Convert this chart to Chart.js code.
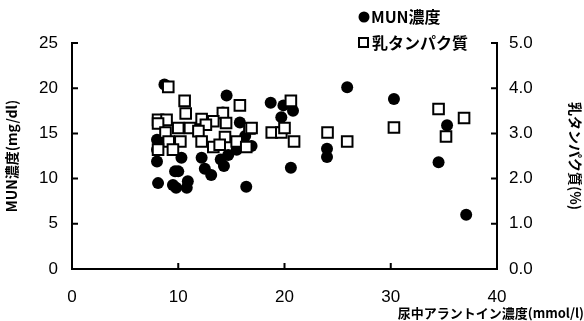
<!DOCTYPE html>
<html>
<head>
<meta charset="utf-8">
<script src="https://cdn.jsdelivr.net/npm/chart.js@4"></script>
<style>
  html, body { margin: 0; padding: 0; background: #fff; }
  #wrap { width: 584px; height: 321px; position: relative; }
</style>
</head>
<body>
<div id="wrap"><canvas id="allantoin"></canvas></div>
<script>
// urinary allantoin (mmol/l) vs MUN (mg/dl)
const munX = [8.7, 14.55, 14.2, 15.8, 8.0, 8.0, 8.0, 10.3, 9.7, 10.0, 8.1, 9.5, 9.8, 10.9, 10.8,
  12.2, 12.5, 13.1, 14.0, 14.3, 15.5, 16.3, 16.4, 16.9, 18.7, 19.9, 20.8, 19.7, 20.6,
  25.9, 30.3, 24.0, 24.0, 34.5, 35.3, 37.1, 14.7, 8.8];
const munY = [20.4, 19.2, 17.3, 16.2, 14.3, 13.2, 11.9, 12.3, 10.8, 10.8, 9.5, 9.3, 9.0, 9.7, 9.0,
  12.3, 11.1, 10.4, 12.1, 11.4, 13.2, 14.7, 9.1, 13.6, 18.4, 18.1, 17.5, 16.8, 11.2,
  20.1, 18.8, 13.3, 12.4, 11.8, 15.9, 6.0, 12.6, 14.3];

// urinary allantoin (mmol/l) vs milk protein (%)
const protX = [9.06, 10.6, 15.8, 10.7, 8.1, 8.9, 12.2, 14.2, 13.3, 14.5, 8.1, 12.6, 10.0, 11.1,
  16.7, 8.8, 11.9, 14.4, 10.2, 9.1, 12.2, 15.5, 13.3, 13.9, 16.4, 8.1, 9.5,
  20.6, 16.9, 18.8, 19.7, 20.0, 20.9, 24.05, 25.9, 30.3, 34.5, 35.2, 36.9];
const protY = [4.03, 3.72, 3.62, 3.44, 3.30, 3.30, 3.32, 3.45, 3.27, 3.23, 3.22, 3.19, 3.12, 3.12,
  3.11, 3.02, 3.05, 2.92, 2.82, 2.82, 2.82, 2.82, 2.70, 2.75, 2.70, 2.64, 2.64,
  3.72, 3.12, 3.02, 3.02, 3.12, 2.82, 3.02, 2.82, 3.13, 3.54, 2.93, 3.34];

const seriesNames = ['MUN濃度', '乳タンパク質'];
const xTitle = '尿中アラントイン濃度(mmol/l)';
const yLeftTitle = 'MUN濃度(mg/dl)';
const yRightTitle = '乳タンパク質(%)';

const numFont = { family: '"Liberation Sans", Arial, sans-serif', size: 17 };
const jpFont = '"Noto Sans CJK JP", sans-serif';

// short tick marks pointing into the plot
const innerTicks = {
  id: 'innerTicks',
  afterDatasetsDraw(chart) {
    const ctx = chart.ctx;
    const len = 6;
    ctx.save();
    ctx.strokeStyle = '#000';
    ctx.lineWidth = 2;
    ctx.beginPath();
    const sx = chart.scales.x, sl = chart.scales.y, sr = chart.scales.y2;
    sx.ticks.forEach((t, i) => {
      const p = sx.getPixelForTick(i);
      ctx.moveTo(p, sx.top); ctx.lineTo(p, sx.top - len);
    });
    sl.ticks.forEach((t, i) => {
      const p = sl.getPixelForTick(i);
      ctx.moveTo(sl.right, p); ctx.lineTo(sl.right + len, p);
    });
    sr.ticks.forEach((t, i) => {
      const p = sr.getPixelForTick(i);
      ctx.moveTo(sr.left, p); ctx.lineTo(sr.left - len, p);
    });
    ctx.stroke();
    ctx.restore();
  }
};

// stacked legend top right, plus x axis title under the right end
const sideText = {
  id: 'sideText',
  afterDraw(chart) {
    const ctx = chart.ctx;
    ctx.save();
    ctx.fillStyle = '#000';
    ctx.strokeStyle = '#000';
    ctx.textBaseline = 'middle';
    ctx.font = 'bold 16px ' + jpFont;
    // MUN
    ctx.beginPath();
    ctx.arc(364, 17, 5.5, 0, Math.PI * 2);
    ctx.fill();
    ctx.fillText(seriesNames[0], 371, 17);
    // protein
    ctx.lineWidth = 2;
    ctx.strokeRect(359, 38, 9, 9);
    ctx.fillText(seriesNames[1], 372, 43);
    // x title
    ctx.font = 'bold 13px ' + jpFont;
    ctx.textAlign = 'right';
    ctx.fillText(xTitle, 584, 313);
    ctx.restore();
  }
};

new Chart(
  document.getElementById('allantoin'),
  {
    type: 'scatter',
    data: {
      datasets: [
        {
          label: seriesNames[0],
          data: munX.map((x, i) => ({ x: x, y: munY[i] })),
          yAxisID: 'y',
          pointStyle: 'circle',
          pointRadius: 6,
          backgroundColor: '#000',
          borderColor: '#000',
          borderWidth: 0,
          order: 2
        },
        {
          label: seriesNames[1],
          data: protX.map((x, i) => ({ x: x, y: protY[i] })),
          yAxisID: 'y2',
          pointStyle: 'rect',
          pointRadius: 7.5,
          backgroundColor: '#fff',
          borderColor: '#000',
          borderWidth: 2,
          order: 1
        }
      ]
    },
    options: {
      responsive: true,
      maintainAspectRatio: false,
      animation: false,
      layout: { padding: { top: 43, left: 0, right: 0, bottom: 0 } },
      plugins: {
        legend: { display: false },
        tooltip: { enabled: false }
      },
      scales: {
        x: {
          type: 'linear',
          min: 0, max: 40,
          grid: { display: false, drawTicks: false },
          border: { display: true, color: '#000', width: 2 },
          ticks: { stepSize: 10, color: '#000', font: numFont, padding: 18 },
          afterFit(s) { s.height = 52; }
        },
        y: {
          position: 'left',
          min: 0, max: 25,
          grid: { display: false, drawTicks: false },
          border: { display: true, color: '#000', width: 2 },
          ticks: { stepSize: 5, color: '#000', font: numFont, padding: 14 },
          title: { display: true, text: yLeftTitle, color: '#000',
                   font: { family: jpFont, size: 14, weight: 'bold' }, padding: { top: 3, bottom: 0 } },
          afterFit(s) { s.width = 72; }
        },
        y2: {
          position: 'right',
          min: 0, max: 5,
          grid: { display: false, drawTicks: false },
          border: { display: true, color: '#000', width: 2 },
          ticks: { stepSize: 1, color: '#000', font: numFont, padding: 12,
                   callback: v => v.toFixed(1) },
          title: { display: true, text: yRightTitle, color: '#000',
                   font: { family: jpFont, size: 14, weight: 'bold' }, padding: { top: 0, bottom: 0 } },
          afterFit(s) { s.width = 87; }
        }
      }
    },
    plugins: [innerTicks, sideText]
  }
);
</script>
</body>
</html>
